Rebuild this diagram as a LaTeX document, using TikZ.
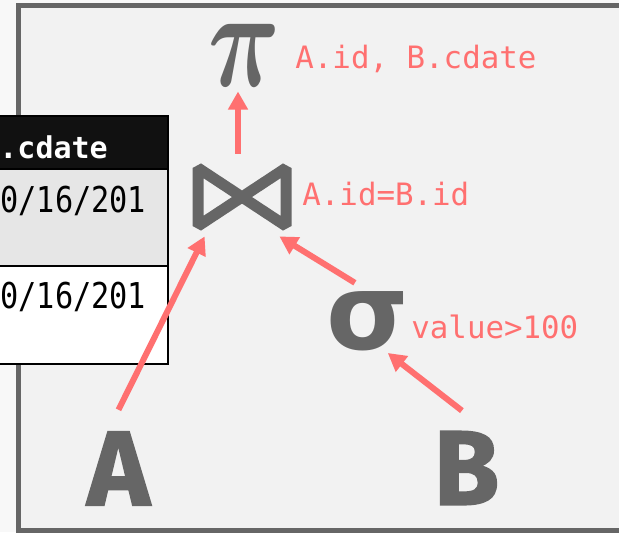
\documentclass[tikz,border=0pt]{standalone}
\usepackage{fontspec}
\usepackage{bm}
\usetikzlibrary{positioning,calc,arrows.meta}
\newfontfamily\labelfont{DejaVu Sans Mono}
\newfontfamily\cellfont[FakeStretch=0.85]{DejaVu Sans Mono}
\newfontfamily\relfont[BoldFeatures={FakeBold=1.5}]{Fira Sans}
\newfontfamily\sigmafont{DejaVu Sans}
\definecolor{opgray}{HTML}{666666}
\definecolor{salmon}{HTML}{FF7070}
\definecolor{panel}{HTML}{F2F2F2}
\definecolor{pagebg}{HTML}{F8F8F8}
\definecolor{headbg}{HTML}{111111}
\definecolor{rowbg}{HTML}{E6E6E6}
\begin{document}
\begin{tikzpicture}[x=0.5pt,y=-0.5pt,
  flow/.style={draw=salmon,line width=3pt,-{Triangle[length=9pt,width=9.5pt]}},
  opsym/.style={text=opgray,inner sep=0pt},
  rel/.style={text=opgray,inner sep=0pt,font=\relfont\bfseries\fontsize{53}{53}\selectfont},
  pred/.style={text=salmon,inner sep=0pt,anchor=base west,font=\labelfont\fontsize{15.4}{18}\selectfont},
  cell/.style={inner sep=0pt,anchor=base west,font=\cellfont\fontsize{17.8}{20}\selectfont}]
	\useasboundingbox (0,0) rectangle (619,532);
	\fill[pagebg] (0,0) rectangle (619,532);
	\draw[draw=opgray,line width=2.6pt,fill=panel] (18.5,5.5) rectangle (700,531);
	% the table peeking in from the left
	\draw[fill=headbg,line width=1pt] (-5,116) rectangle (168,169);
	\draw[fill=rowbg,line width=1pt] (-5,169) rectangle (168,266);
	\draw[fill=white,line width=1pt] (-5,266) rectangle (168,364);
	\node[cell,text=white,font=\labelfont\bfseries\fontsize{15}{18}\selectfont] (hdr) at (-1,158) {.cdate};
	\node[cell] (rowa) at (0,212) {0/16/201};
	\node[cell] (rowb) at (0,308) {0/16/201};
	% operators
	\node[opsym] (proj) at (244,55) {\scalebox{5}[7]{$\bm{\pi}$\/}};
	\node[opsym,minimum width=37pt,minimum height=39pt] (join) at (242,197) {};
	\draw[opgray,line width=5.5pt,line join=bevel] ([shift={(-44,-29)}]join.center) -- ([shift={(-44,29)}]join.center)
		-- ([shift={(44,-29)}]join.center) -- ([shift={(44,29)}]join.center) -- cycle;
	\node[opsym,font=\sigmafont\bfseries\fontsize{53}{53}\selectfont] (sigma) at (368,321) {σ};
	\node[rel,outer sep=11pt] (A) at (118.5,468.5) {A};
	\node[rel] (B) at (466.5,468) {B};
	% predicates
	\node[pred] (projlbl) at (295,68) {A.id, B.cdate};
	\node[pred] (joinlbl) at (302,205) {A.id=B.id};
	\node[pred] (sigmalbl) at (411,338) {value>100};
	% data flow
	\draw[flow,shorten <=2pt,shorten >=2.5pt] ([xshift=-2pt]join.north) -- ([xshift=-2pt]join.north |- proj.south);
	\draw[flow] (A.north) -- (join.south west);
	\draw[flow,shorten <=7.7pt] (sigma.north) -- (join.south east);
	\draw[flow,shorten <=16.5pt,shorten >=1.5pt] (B.60) -- (sigma.300);
\end{tikzpicture}
\end{document}
